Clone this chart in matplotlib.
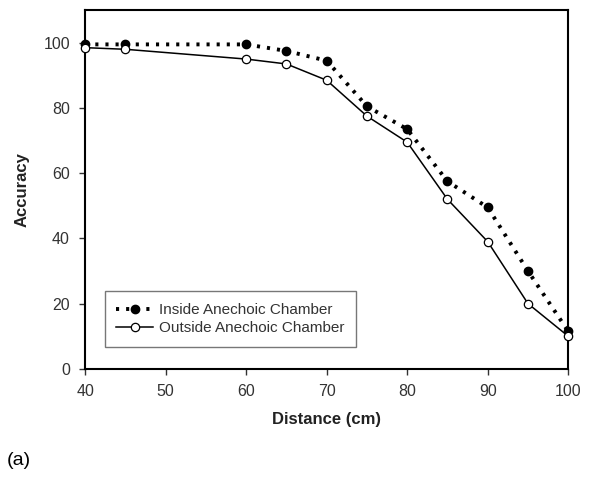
import matplotlib
matplotlib.use("Agg")
import matplotlib.pyplot as plt

plt.rcParams['font.family'] = ['Liberation Sans', 'DejaVu Sans']

distance = [40, 45, 60, 65, 70, 75, 80, 85, 90, 95, 100]
inside = [99.5, 99.5, 99.5, 97.5, 94.5, 80.5, 73.5, 57.5, 49.5, 30, 11.5]
outside = [98.5, 98, 95, 93.5, 88.5, 77.5, 69.5, 52, 39, 20, 10]
x_ticks = [40, 50, 60, 70, 80, 90, 100]
y_ticks = [0, 20, 40, 60, 80, 100]

fig = plt.figure(figsize=(6, 4.84), dpi=100)
ax = fig.add_axes([0.142, 0.238, 0.805, 0.741])

ax.plot(distance, inside, color='black', linestyle=(0, (0.8, 1.8)), linewidth=2.8,
        marker='o', markersize=6, markerfacecolor='black', markeredgecolor='black',
        label='Inside Anechoic Chamber', clip_on=False, zorder=3)
ax.plot(distance, outside, color='black', linestyle='-', linewidth=1.1,
        marker='o', markersize=6, markerfacecolor='white', markeredgecolor='black',
        markeredgewidth=0.9, label='Outside Anechoic Chamber', clip_on=False, zorder=4)

ax.set_xlim(40, 100)
ax.set_ylim(0, 110)
ax.set_xticks(x_ticks)
ax.set_yticks(y_ticks)
ax.tick_params(direction='out', length=4, width=1, labelsize=11.5,
               colors='#333333', pad=7)
for s in ax.spines.values():
    s.set_linewidth(1.5)

ax.set_xlabel('Distance (cm)', fontsize=12, fontweight='bold', labelpad=9,
              color='#222222')
ax.set_ylabel('Accuracy', fontsize=12, fontweight='bold', labelpad=10,
              color='#222222')

leg = ax.legend(loc='lower left', bbox_to_anchor=(0.041, 0.061), borderaxespad=0,
                fontsize=11, frameon=True, fancybox=False, edgecolor='#555555',
                handlelength=2.4, borderpad=0.75, labelspacing=0.3, handletextpad=0.4)
leg.get_frame().set_linewidth(1.0)
for t in leg.get_texts():
    t.set_color('#333333')

fig.text(0.012, 0.04, '(a)', fontsize=14)

fig.savefig('out.png', dpi=100)
